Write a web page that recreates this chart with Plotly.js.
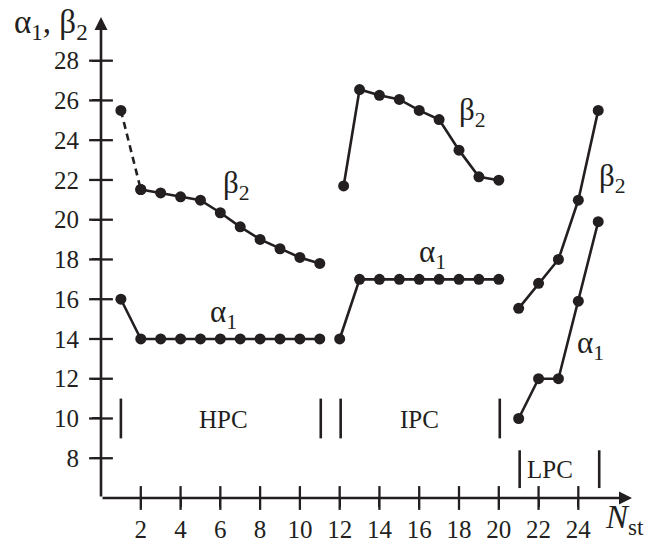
<!DOCTYPE html>
<html>
<head>
<meta charset="utf-8">
<script src="https://cdn.plot.ly/plotly-3.0.1.min.js"></script>
<style>html,body{margin:0;padding:0;background:#fff;}#chart{width:656px;height:545px;}</style>
</head>
<body>
<div id="chart"></div>
<script>
// ---- data ----
const hpcX = [1, 2, 3, 4, 5, 6, 7, 8, 9, 10, 11];
const hpcBeta2 = [25.5, 21.52, 21.35, 21.15, 20.98, 20.35, 19.64, 19.01, 18.54, 18.1, 17.8];
const hpcAlpha1 = [16, 14, 14, 14, 14, 14, 14, 14, 14, 14, 14];

const ipcBetaX = [12.2, 13, 14, 15, 16, 17, 18, 19, 20];
const ipcBeta2 = [21.7, 26.55, 26.26, 26.05, 25.5, 25.04, 23.5, 22.16, 21.99];
const ipcAlphaX = [12, 13, 14, 15, 16, 17, 18, 19, 20];
const ipcAlpha1 = [14, 17, 17, 17, 17, 17, 17, 17, 17];

const lpcX = [21, 22, 23, 24, 25];
const lpcBeta2 = [15.54, 16.8, 18.0, 20.98, 25.5];
const lpcAlpha1 = [10.0, 12.0, 12.0, 15.9, 19.9];

const xTicks = [2, 4, 6, 8, 10, 12, 14, 16, 18, 20, 22, 24];
const yTicks = [8, 10, 12, 14, 16, 18, 20, 22, 24, 26, 28];

const regionNames = ['HPC', 'IPC', 'LPC'];
const regionStart = [1, 12.05, 21.05];
const regionEnd = [11.05, 20.05, 25.05];
const regionBarLow = [9, 9, 6.5];
const regionBarHigh = [11, 11, 8.4];
const regionLabelX = [6.15, 16.0, 22.6];
const regionLabelY = [9.95, 9.95, 7.45];

// ---- styling ----
const ink = '#231f20';
const serif = 'Liberation Serif';
const lw = 2.6;
const ms = 11;

function series(x, y, dash) {
  return {
    x: x, y: y, type: 'scatter', mode: 'lines+markers',
    line: {color: ink, width: lw, dash: dash || 'solid'},
    marker: {color: ink, size: ms},
    cliponaxis: false, showlegend: false, hoverinfo: 'x+y'
  };
}

const traces = [
  series(hpcX.slice(0, 2), hpcBeta2.slice(0, 2), '7px,5px'),
  series(hpcX.slice(1), hpcBeta2.slice(1)),
  series(hpcX, hpcAlpha1),
  series(ipcBetaX, ipcBeta2),
  series(ipcAlphaX, ipcAlpha1),
  series(lpcX, lpcBeta2),
  series(lpcX, lpcAlpha1),
  // crossing tick marks
  {x: xTicks, y: xTicks.map(() => 6), type: 'scatter', mode: 'markers',
   marker: {symbol: 'line-ns-open', size: 17, color: ink, line: {color: ink, width: 2.3}},
   cliponaxis: false, showlegend: false, hoverinfo: 'skip'},
  {x: yTicks.map(() => 0), y: yTicks, type: 'scatter', mode: 'markers',
   marker: {symbol: 'line-ew-open', size: 17, color: ink, line: {color: ink, width: 2.3}},
   cliponaxis: false, showlegend: false, hoverinfo: 'skip'}
];

const shapes = [];
const annotations = [];
regionNames.forEach((name, i) => {
  [regionStart[i], regionEnd[i]].forEach(xv => {
    shapes.push({type: 'line', xref: 'x', yref: 'y', x0: xv, x1: xv,
      y0: regionBarLow[i], y1: regionBarHigh[i], line: {color: ink, width: 2.6}});
  });
  annotations.push({x: regionLabelX[i], y: regionLabelY[i], xref: 'x', yref: 'y',
    text: name, showarrow: false, font: {family: serif, size: 25, color: ink},
    xanchor: 'center', yanchor: 'middle'});
});

// series labels
const seriesLabels = [
  {x: 6.05, y: 21.75, t: 'β<sub>2</sub>'},
  {x: 17.9, y: 25.4, t: 'β<sub>2</sub>'},
  {x: 24.95, y: 22.1, t: 'β<sub>2</sub>'},
  {x: 5.4, y: 15.25, t: 'α<sub>1</sub>'},
  {x: 15.9, y: 18.3, t: 'α<sub>1</sub>'},
  {x: 23.85, y: 13.7, t: 'α<sub>1</sub>'}
];
seriesLabels.forEach(s => annotations.push({x: s.x, y: s.y, xref: 'x', yref: 'y',
  text: s.t, showarrow: false, font: {family: serif, size: 31, color: ink},
  xanchor: 'left', yanchor: 'middle'}));

// axes with arrows
annotations.push({x: 26.7, y: 6, ax: 0, ay: 6, xref: 'x', yref: 'y', axref: 'x', ayref: 'y',
  text: '', showarrow: true, arrowhead: 2, arrowsize: 1.0, arrowwidth: 2.6, arrowcolor: ink});
annotations.push({x: 0, y: 30.2, ax: 0, ay: 6, xref: 'x', yref: 'y', axref: 'x', ayref: 'y',
  text: '', showarrow: true, arrowhead: 2, arrowsize: 1.0, arrowwidth: 2.6, arrowcolor: ink});

// axis titles
annotations.push({x: -0.165, y: 0.972, xref: 'paper', yref: 'paper',
  text: 'α<sub>1</sub>, β<sub>2</sub>', showarrow: false,
  font: {family: serif, size: 33, color: ink}, xanchor: 'left', yanchor: 'middle'});
annotations.push({x: 0.934, y: -0.045, xref: 'paper', yref: 'paper',
  text: '<i>N</i><sub>st</sub>', showarrow: false,
  font: {family: serif, size: 33, color: ink}, xanchor: 'left', yanchor: 'middle'});

const layout = {
  width: 656, height: 545,
  margin: {l: 101, r: 18, t: 11, b: 47},
  paper_bgcolor: '#fff', plot_bgcolor: '#fff',
  showlegend: false,
  xaxis: {range: [0, 27], showgrid: false, zeroline: false, showline: false,
    tickmode: 'array', tickvals: xTicks, ticktext: xTicks.map(String),
    ticks: 'outside', ticklen: 8, tickwidth: 2.3, tickcolor: ink,
    tickfont: {family: serif, size: 25, color: ink}, ticklabelstandoff: 1},
  yaxis: {range: [6, 30.5], showgrid: false, zeroline: false, showline: false,
    tickmode: 'array', tickvals: yTicks, ticktext: yTicks.map(String),
    ticks: 'outside', ticklen: 8, tickwidth: 2.3, tickcolor: ink,
    tickfont: {family: serif, size: 25, color: ink}, ticklabelstandoff: 8},
  shapes: shapes,
  annotations: annotations
};

Plotly.newPlot('chart', traces, layout, {displayModeBar: false});
</script>
</body>
</html>
